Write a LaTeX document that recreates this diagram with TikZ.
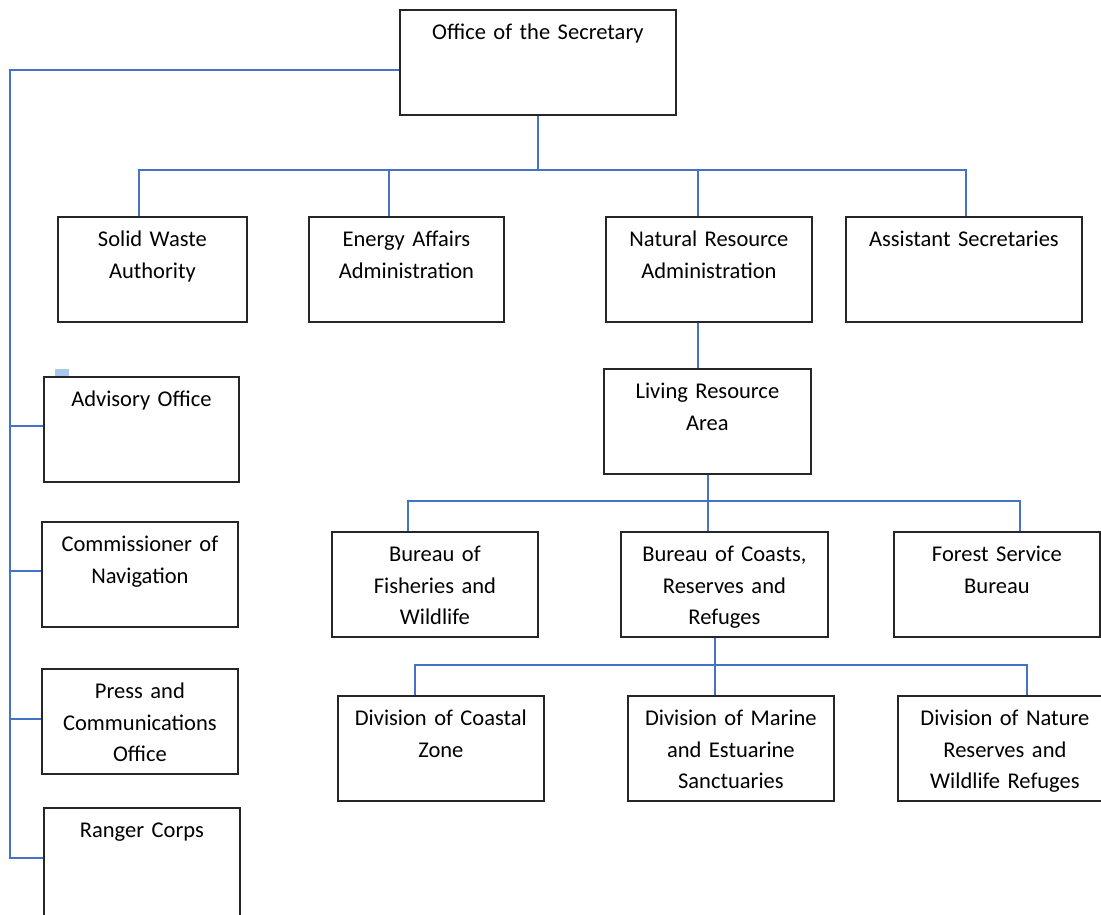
\documentclass[tikz,border=0pt]{standalone}
\usepackage{fontspec}
\setmainfont{Carlito}
\definecolor{linkblue}{HTML}{4472C4}
\definecolor{boxline}{HTML}{262626}
\definecolor{markblue}{HTML}{A9C8EC}
\begin{document}
\begin{tikzpicture}
    [x=1pt,y=-1pt,
     unit/.style={draw=boxline,line width=1.8pt,fill=white,anchor=north west,
       text width=#1,inner xsep=0pt,inner ysep=0pt,align=center,
       text height=30pt,text depth=75pt,font=\fontsize{22.5}{31.5}\selectfont},
     link/.style={draw=linkblue,line width=1.8pt}]
    \useasboundingbox (0,0) rectangle (1101,915);
    \clip (0,0) rectangle (1101,915);
    % top level
    \node[unit=276] (sec) at (399,9) {Office of the Secretary};
    \node[unit=189] (solid) at (57,216) {Solid Waste\\Authority};
    \node[unit=195] (energy) at (308,216) {Energy Affairs\\Administration};
    \node[unit=206] (natres) at (605,216) {Natural Resource\\Administration};
    \node[unit=236] (asst) at (845,216) {Assistant Secretaries};
    \node[unit=207] (living) at (603,368) {Living Resource\\Area};
    % bureaus
    \node[unit=206] (fish) at (331,531) {Bureau of\\Fisheries and\\Wildlife};
    \node[unit=207] (coasts) at (620,531) {Bureau of Coasts,\\Reserves and\\Refuges};
    \node[unit=206] (forest) at (893,531) {Forest Service\\Bureau};
    % divisions
    \node[unit=206] (coastal) at (337,695) {Division of Coastal\\Zone};
    \node[unit=206] (marine) at (627,695) {Division of Marine\\and Estuarine\\Sanctuaries};
    \node[unit=214] (nature) at (897,695) {Division of Nature\\Reserves and\\Wildlife Refuges};
    % staff offices
    \node[unit=195] (advisory) at (43,376) {Advisory Office};
    \node[unit=196] (navig) at (41,521) {Commissioner of\\Navigation};
    \node[unit=196] (press) at (41,668) {Press and\\Communications\\Office};
    \node[unit=196,text depth=120pt] (ranger) at (43,807) {Ranger Corps};
    \fill[markblue] (55,369) rectangle (69,376);
    % connectors
    \draw[link] (sec.west |- 0,70) -| (10,858) -- (ranger.west |- 0,858);
    \draw[link] (10,426) -- (advisory.west |- 0,426);
    \draw[link] (10,571) -- (navig.west |- 0,571);
    \draw[link] (10,719) -- (press.west |- 0,719);
    \draw[link] (sec.south) -- (sec.south |- 0,170);
    \draw[link] (solid.north -| 139,0) -- (139,170) -- (966,170) -- (asst.north -| 966,0);
    \draw[link] (energy.north -| 389,0) -- (389,170);
    \draw[link] (natres.north -| 698,0) -- (698,170);
    \draw[link] (natres.south -| 698,0) -- (living.north -| 698,0);
    \draw[link] (living.south -| 708,0) -- (coasts.north -| 708,0);
    \draw[link] (fish.north -| 408,0) -- (408,501) -- (1020,501) -- (forest.north -| 1020,0);
    \draw[link] (coasts.south -| 715,0) -- (marine.north -| 715,0);
    \draw[link] (coastal.north -| 415,0) -- (415,665) -- (1027,665) -- (nature.north -| 1027,0);
\end{tikzpicture}
\end{document}
